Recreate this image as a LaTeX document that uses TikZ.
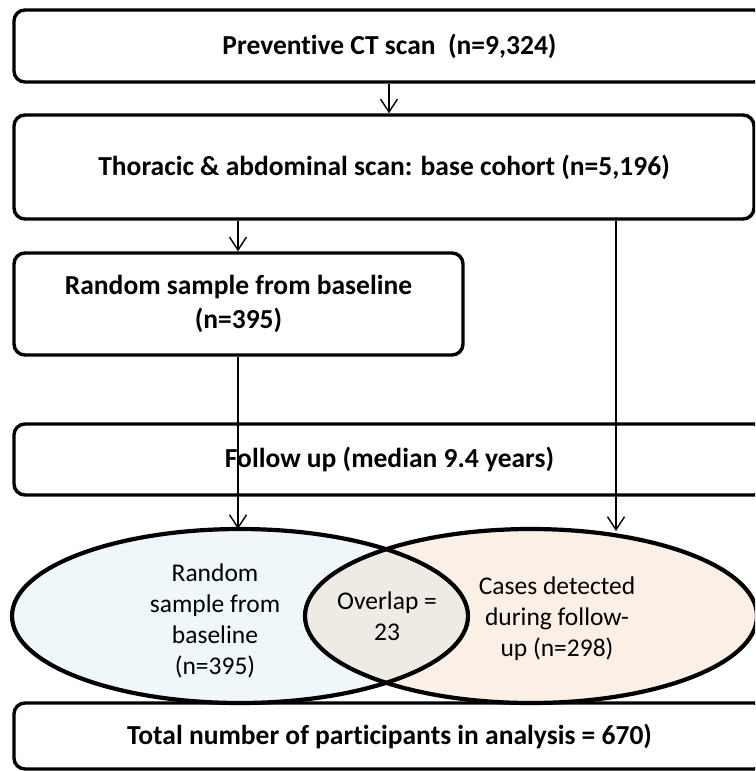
\documentclass[tikz,border=0pt]{standalone}
\usepackage{fontspec}
\setmainfont[Ligatures=NoCommon]{Carlito}
\usetikzlibrary{arrows.meta,shapes.geometric}
\definecolor{lblue}{HTML}{EFF7FA}
\definecolor{lpeach}{HTML}{FCF0E6}
\definecolor{lgrey}{HTML}{EEEBE5}
\begin{document}
\begin{tikzpicture}[x=1pt,y=-1pt,
  box/.style={draw,line width=3.4pt,rounded corners=11pt,inner sep=0pt,
     font=\fontsize{27.5}{34}\selectfont\bfseries,align=center},
  conn/.style={line width=1.4pt,-{Straight Barb[length=13pt,width=17pt,line width=1.4pt]}},
  etext/.style={font=\fontsize{25.5}{31}\selectfont,align=center,inner sep=0pt},
  vring/.style={line width=4.2pt}]
\useasboundingbox (0,0) rectangle (755,771);
\clip (0,0) rectangle (755,771);
% boxes
\node[box,minimum width=751pt,minimum height=72pt] (b1) at (389.5,46) {Preventive CT scan~~(n=9,324)};
\node[box,minimum width=740pt,minimum height=104pt] (b2) at (384,167) {Thoracic \& abdominal scan: base cohort (n=5,196)};
\node[box,minimum width=449pt,minimum height=102pt] (b3) at (238.5,304) {Random sample from baseline\\(n=395)};
\node[box,minimum width=751pt,minimum height=71pt] (b4) at (389.5,459.5) {Follow up (median 9.4 years)};
\node[box,minimum width=751pt,minimum height=66pt] (b5) at (389.5,736) {Total number of participants in analysis = 670)};
% venn
\fill[lblue] (240,616) ellipse [x radius=228, y radius=87];
\fill[lpeach] (531,616) ellipse [x radius=226, y radius=87];
\begin{scope}
  \clip (240,616) ellipse [x radius=228, y radius=87];
  \fill[lgrey] (531,616) ellipse [x radius=226, y radius=87];
\end{scope}
\node[ellipse,vring,draw,minimum width=456pt,minimum height=174pt,inner sep=0pt] (ell1) at (240,616) {};
\node[ellipse,vring,draw,minimum width=452pt,minimum height=174pt,inner sep=0pt] (ell2) at (531,616) {};
\node[etext] (t1) at (215,621) {Random\\sample from\\baseline\\(n=395)};
\node[etext] (t2) at (557,619) {Cases detected\\during follow-\\up (n=298)};
\node[etext] (t3) at (387,616) {Overlap =\\23};
% connectors
\coordinate (e1) at (238,529);
\coordinate (e2) at (616,531);
\draw[conn] (b1.south -| 389,0) -- (b2.north -| 389,0);
\draw[conn] (b2.south -| 238,0) -- (b3.north -| 238,0);
\draw[conn] (b3.south -| 238,0) -- (e1);
\draw[conn] (b2.south -| 616,0) -- (e2);
\end{tikzpicture}
\end{document}
